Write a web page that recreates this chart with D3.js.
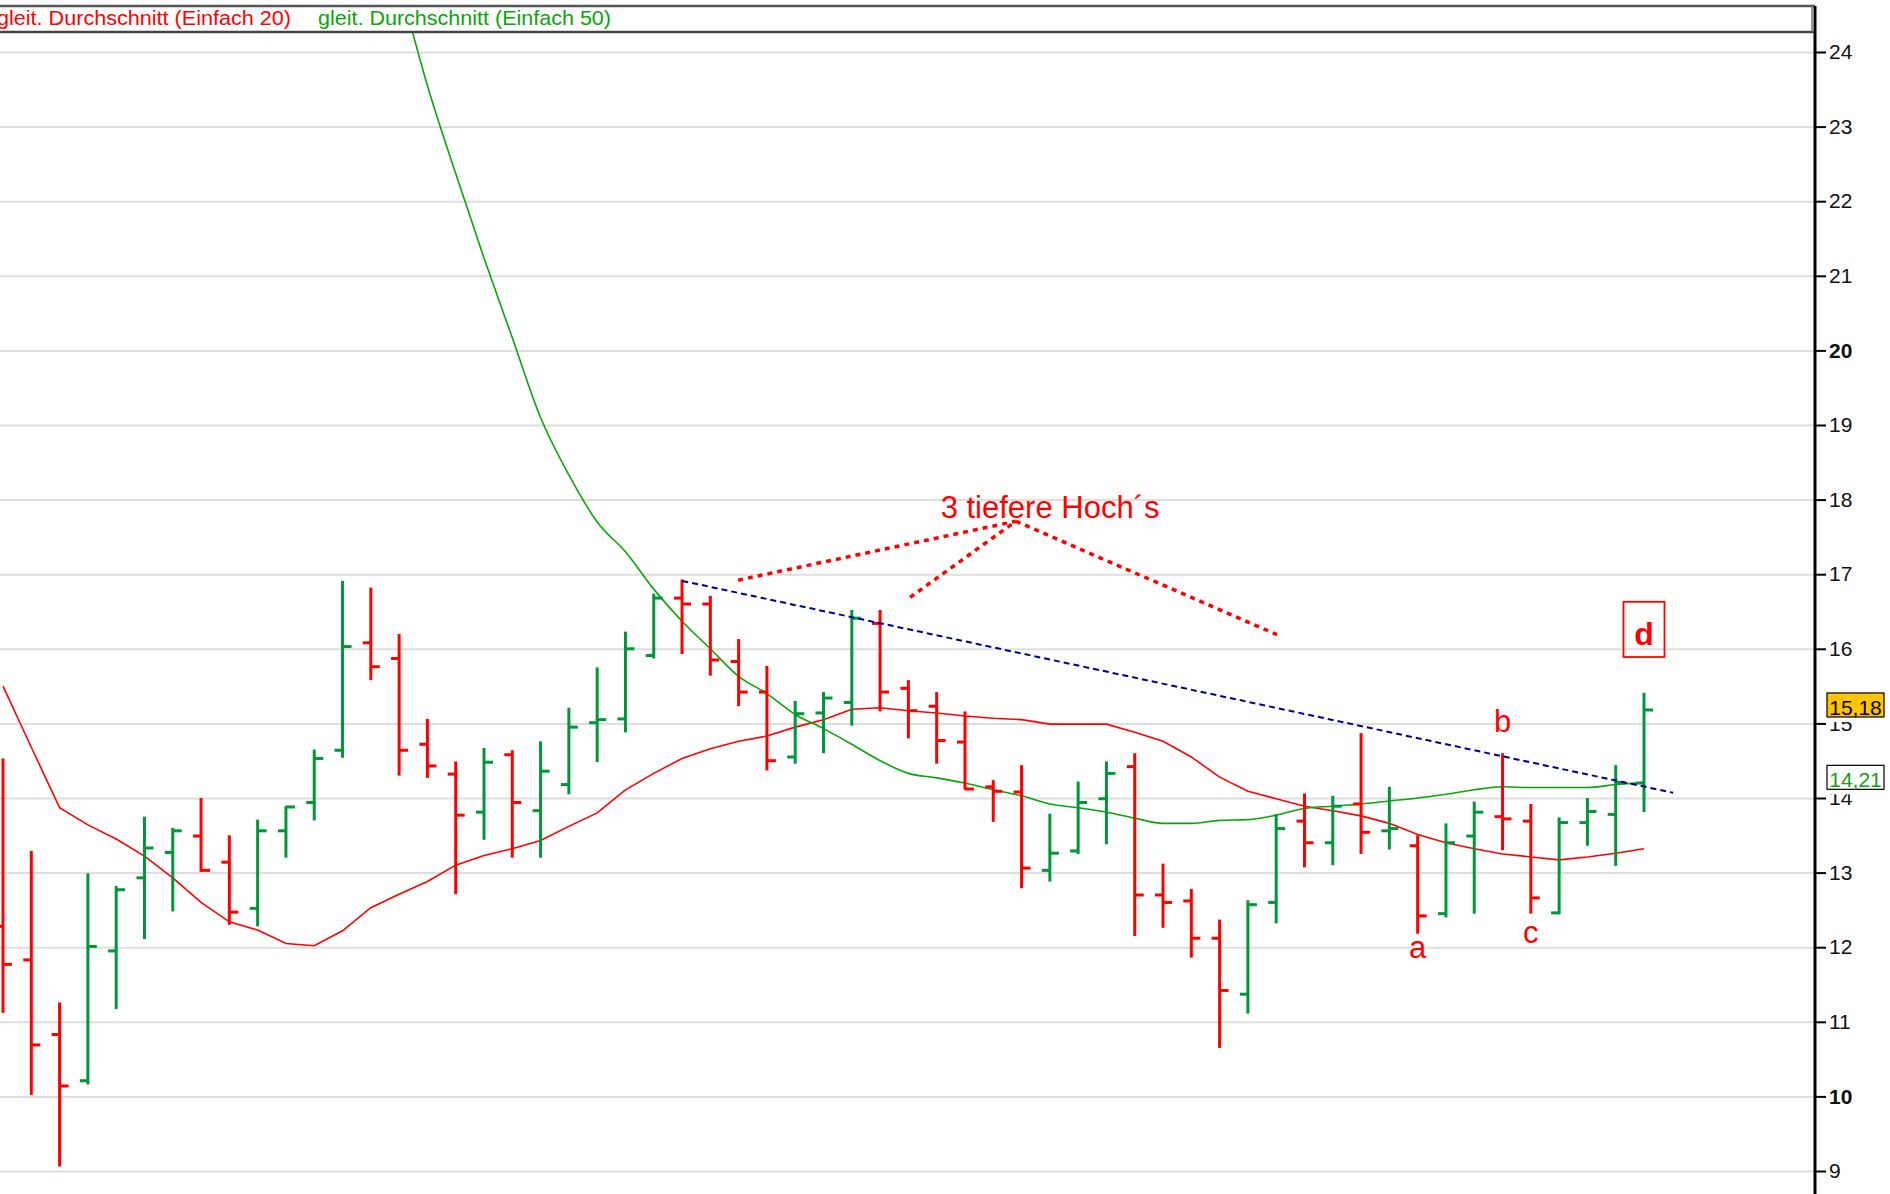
<!DOCTYPE html>
<html>
<head>
<meta charset="utf-8">
<script src="https://cdn.jsdelivr.net/npm/d3@7"></script>
<style>
html,body{margin:0;padding:0;background:#fff;}
svg{display:block;font-family:"Liberation Sans",Arial,Helvetica,sans-serif;}
</style>
</head>
<body>
<svg id="chart" width="1890" height="1194"></svg>
<script>
// ---- data ----
const opens  = [12.28,11.83,10.83,10.21,11.95,12.93,13.27,13.49,13.14,12.52,13.56,13.94,14.64,16.08,15.87,14.72,14.32,13.81,14.58,13.83,
                14.18,15.01,15.06,15.91,16.68,16.60,15.83,15.42,14.55,15.14,15.28,16.34,15.47,15.23,14.75,14.15,14.08,13.03,13.29,13.99,
                14.42,12.70,12.62,12.12,11.37,12.60,13.69,13.40,13.92,13.56,13.36,12.45,13.49,13.75,13.69,12.46,13.67,13.78,14.20];
const highs  = [14.53,13.29,11.26,12.99,12.82,13.75,13.60,14.00,13.50,13.71,13.89,14.65,16.91,16.82,16.20,15.06,14.49,14.67,14.64,14.76,
                15.21,15.75,16.23,16.74,16.93,16.71,16.13,15.77,15.30,15.42,16.52,16.52,15.58,15.42,15.16,14.24,14.44,13.79,14.22,14.49,
                14.60,13.12,12.78,12.37,12.63,13.78,14.06,14.03,14.87,14.15,13.50,13.66,13.95,14.60,13.92,13.74,14.00,14.44,15.41];
const lows   = [11.12,10.02, 9.06,10.16,11.17,12.11,12.48,13.01,12.30,12.28,13.20,13.70,14.54,15.58,14.30,14.27,12.71,13.44,13.20,13.20,
                14.05,14.48,14.88,15.87,15.93,15.64,15.23,14.37,14.46,14.60,14.97,15.16,14.80,14.46,14.11,13.68,12.79,12.88,13.25,13.38,
                12.15,12.26,11.86,10.65,11.11,12.32,13.07,13.10,13.25,13.31,12.18,12.40,12.45,13.30,12.45,12.44,13.36,13.09,13.81];
const closes = [11.77,10.69,10.14,12.01,12.77,13.33,13.56,13.03,12.47,13.56,13.88,14.53,16.03,15.76,14.64,14.43,13.77,14.48,13.94,14.36,
                14.95,15.05,16.00,16.68,16.60,15.85,15.42,14.50,15.13,15.34,16.41,15.42,15.17,14.77,14.12,14.09,13.06,13.26,13.94,14.33,
                12.70,12.60,12.12,11.42,12.57,13.59,13.40,13.89,13.54,13.59,12.42,13.40,13.81,13.72,12.66,13.67,13.82,14.21,15.18];
// gleitender Durchschnitt 20 (red) per bar
const ma20 = [15.50,14.68,13.87,13.64,13.45,13.22,12.93,12.60,12.34,12.23,12.05,12.02,12.22,12.53,12.71,12.88,13.10,13.23,13.32,13.43,
              13.62,13.80,14.11,14.33,14.53,14.66,14.76,14.83,14.95,15.05,15.19,15.21,15.17,15.14,15.10,15.07,15.05,14.99,14.99,14.99,
              14.88,14.76,14.55,14.28,14.09,13.99,13.89,13.83,13.76,13.66,13.51,13.40,13.32,13.25,13.21,13.17,13.21,13.26,13.32];
// gleitender Durchschnitt 50 (green) per bar (enters from above the plot)
const ma50 = [null,null,null,null,null,null,null,null,null,null,null,null,null,null,
              24.95,23.55,22.37,21.24,20.17,19.10,18.33,17.70,17.30,16.80,16.37,16.00,15.63,15.40,15.12,14.93,
              14.72,14.50,14.33,14.27,14.20,14.11,14.03,13.92,13.87,13.81,13.73,13.66,13.66,13.70,13.71,13.77,13.86,13.89,
              13.92,13.96,14.00,14.05,14.11,14.15,14.14,14.14,14.14,14.18,14.21];
const yTicks = [9,10,11,12,13,14,15,16,17,18,19,20,21,22,23,24];
const boldTicks = [10,20];
const legendLabels = ["gleit. Durchschnitt (Einfach 20)", "gleit. Durchschnitt (Einfach 50)"];
const trendLine = [[24.01,16.91],[59.03,14.07]];
const hochLines = [
  [[25.98,16.92],[35.80,17.71]],
  [[32.06,16.69],[35.80,17.71]],
  [[35.80,17.71],[45.03,16.19]]
];
const hochText = {t:"3 tiefere Hoch\u00B4s", i:33.14, v:17.753};
const pointLabels = [{t:"a", i:50, v:11.855},{t:"b", i:53, v:14.885},{t:"c", i:54, v:12.056}];
const boxLabel = {t:"d", i:58, vTop:16.63, vBottom:15.89};
const lastClose = "15,18", lastCloseVal = 15.18;
const lastMa50 = "14,21", lastMa50Val = 14.21;

// ---- layout ----
const W = 1890, H = 1194;
const axisX = 1815;
const legendTop = 6, legendBottom = 32;
const RED = "#ff0000", GREEN = "#00963a", MAGREEN = "#0aa50a", NAVY = "#000090";

const svg = d3.select("#chart");
svg.append("rect").attr("width",W).attr("height",H).attr("fill","#fff");

const x = d3.scaleLinear().domain([0,58]).range([3,1644]);
const y = d3.scaleLinear().domain([9,24]).range([1171,52]);

// grid
const grid = svg.append("g").attr("transform",`translate(${axisX},0)`)
  .call(d3.axisLeft(y).tickValues(yTicks).tickSize(axisX).tickFormat(""));
grid.select(".domain").remove();
grid.selectAll("line").attr("stroke","#dedede").attr("stroke-width",2);

// clip
svg.append("defs").append("clipPath").attr("id","plotClip")
  .append("rect").attr("x",0).attr("y",legendBottom+1).attr("width",axisX-1).attr("height",H-legendBottom);
const plot = svg.append("g").attr("clip-path","url(#plotClip)");

// moving averages
const line = d3.line().defined(d=>d!=null).x((d,i)=>x(i)).y(d=>y(d));
const smooth = d3.line().defined(d=>d!=null).x((d,i)=>x(i)).y(d=>y(d)).curve(d3.curveMonotoneX);
plot.append("path").datum(ma20).attr("d",line).attr("fill","none").attr("stroke",RED).attr("stroke-width",1.6);
plot.append("path").datum(ma50).attr("d",smooth).attr("fill","none").attr("stroke",MAGREEN).attr("stroke-width",1.6);

// OHLC bars
const bars = plot.append("g").selectAll("g").data(d3.range(opens.length)).join("g")
  .attr("stroke", i => closes[i] >= opens[i] ? GREEN : RED).attr("stroke-width",3);
bars.append("line").attr("x1",i=>x(i)).attr("x2",i=>x(i)).attr("y1",i=>y(highs[i])).attr("y2",i=>y(lows[i]));
bars.append("line").attr("x1",i=>x(i)-8).attr("x2",i=>x(i)).attr("y1",i=>y(opens[i])).attr("y2",i=>y(opens[i]));
bars.append("line").attr("x1",i=>x(i)).attr("x2",i=>x(i)+9).attr("y1",i=>y(closes[i])).attr("y2",i=>y(closes[i]));

// trend line (blue dashed)
const pl = d3.line().x(d=>x(d[0])).y(d=>y(d[1]));
plot.append("path").datum(trendLine).attr("d",pl).attr("fill","none").attr("stroke",NAVY)
  .attr("stroke-width",2).attr("stroke-dasharray","6,4");

// red dotted annotation lines
plot.append("g").selectAll("path").data(hochLines).join("path").attr("d",pl)
  .attr("fill","none").attr("stroke",RED).attr("stroke-width",3.5).attr("stroke-dasharray","5,5");

plot.append("text").attr("x",x(hochText.i)).attr("y",y(hochText.v)).attr("fill",RED)
  .attr("font-size",31).text(hochText.t);

plot.append("g").selectAll("text").data(pointLabels).join("text")
  .attr("x",d=>x(d.i)).attr("y",d=>y(d.v)).attr("text-anchor","middle").attr("fill",RED)
  .attr("font-size",31).text(d=>d.t);

plot.append("rect").attr("x",x(boxLabel.i)-20.5).attr("y",y(boxLabel.vTop))
  .attr("width",41).attr("height",y(boxLabel.vBottom)-y(boxLabel.vTop))
  .attr("fill","none").attr("stroke",RED).attr("stroke-width",1.8);
plot.append("text").attr("x",x(boxLabel.i)).attr("y",y(boxLabel.vBottom)-12).attr("text-anchor","middle")
  .attr("fill",RED).attr("font-size",32).attr("font-weight","bold").text(boxLabel.t);

// legend box
svg.append("line").attr("x1",0).attr("x2",axisX).attr("y1",legendTop).attr("y2",legendTop).attr("stroke","#555").attr("stroke-width",2.5);
svg.append("line").attr("x1",0).attr("x2",axisX).attr("y1",legendBottom).attr("y2",legendBottom).attr("stroke","#444").attr("stroke-width",2.5);
svg.append("line").attr("x1",axisX-3).attr("x2",axisX-3).attr("y1",legendTop).attr("y2",legendBottom).attr("stroke","#777").attr("stroke-width",1.5);
svg.append("text").attr("x",-3).attr("y",25).attr("fill",RED).attr("font-size",20.5)
  .attr("textLength",294).attr("lengthAdjust","spacingAndGlyphs").text(legendLabels[0]);
svg.append("text").attr("x",318).attr("y",25).attr("fill",MAGREEN).attr("font-size",20.5)
  .attr("textLength",293).attr("lengthAdjust","spacingAndGlyphs").text(legendLabels[1]);

// right axis
const ax = svg.append("g").attr("transform",`translate(${axisX},0)`)
  .call(d3.axisRight(y).tickValues(yTicks).tickSize(11).tickPadding(3).tickFormat(d3.format("d")));
ax.select(".domain").remove();
ax.selectAll("line").attr("stroke","#000").attr("stroke-width",2);
ax.selectAll("text").attr("font-size",21).attr("fill","#111")
  .attr("font-family","'Liberation Sans',Arial,sans-serif")
  .attr("font-weight",d=>boldTicks.includes(d)?"bold":"normal");
svg.append("line").attr("x1",axisX).attr("x2",axisX).attr("y1",legendTop).attr("y2",H).attr("stroke","#000").attr("stroke-width",3);

// value boxes
function valueBox(label, v, fill, color){
  const yy = y(v);
  svg.append("rect").attr("x",axisX+3).attr("y",yy-18).attr("width",W-axisX-3).attr("height",30).attr("fill","#fff");
  svg.append("rect").attr("x",1827).attr("y",yy-17).attr("width",57).attr("height",24)
    .attr("fill",fill).attr("stroke","#000").attr("stroke-width",1.2);
  svg.append("text").attr("x",1855.5).attr("y",yy+5).attr("text-anchor","middle").attr("fill",color)
    .attr("font-size",21).text(label);
}
valueBox(lastClose, lastCloseVal, "#ffc400", "#000");
valueBox(lastMa50, lastMa50Val, "#fff", "#10a010");
</script>
</body>
</html>
